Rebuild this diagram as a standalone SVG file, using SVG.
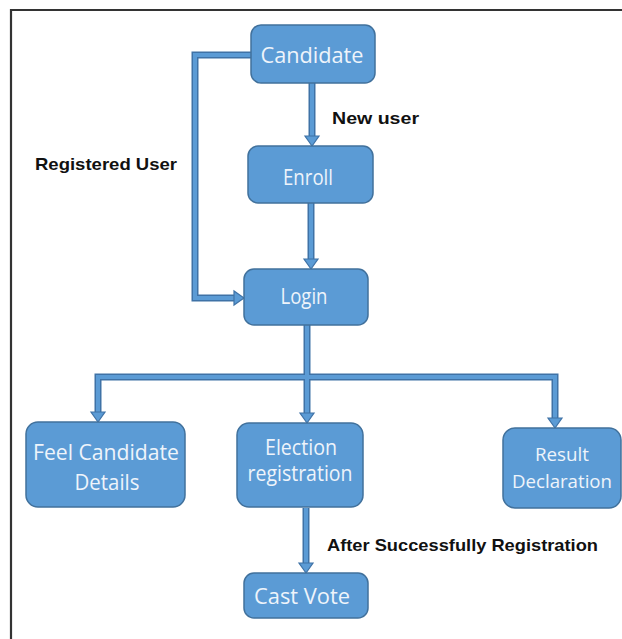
<svg xmlns="http://www.w3.org/2000/svg" xmlns:xlink="http://www.w3.org/1999/xlink" width="622" height="639" viewBox="0 0 622 639">
  <style>
    .box { fill: #5b9bd5; stroke: #41719c; stroke-width: 1.5; }
    .lbl { font-family: "Open Sans", "Noto Sans", "Liberation Sans", sans-serif; font-size: 21px; fill: #eef4fb; text-anchor: middle; }
    .sm { font-size: 19px; }
    .note { font-family: "Liberation Sans", "Open Sans", sans-serif; font-size: 17px; font-weight: bold; fill: #111; }
    .shaft-out { fill: none; stroke: #3f72a6; stroke-width: 7; stroke-linejoin: miter; }
    .shaft-in { fill: none; stroke: #5b9bd5; stroke-width: 4; stroke-linejoin: miter; }
    .head { fill: #5b9bd5; stroke: #3f72a6; stroke-width: 1.2; stroke-linejoin: miter; }
  </style>
  <defs>
    <!-- arrowhead pointing down, tip at origin -->
    <polygon id="ah" class="head" points="0,0 -7,-10 7,-10"/>
  </defs>

  <rect width="622" height="639" fill="#ffffff"/>
  <!-- outer frame -->
  <path d="M11,639 V10 H622" fill="none" stroke="#333" stroke-width="2.2"/>

  <g id="connectors">
    <g class="shaft-out">
      <path d="M312,83 V137"/>
      <path d="M311,203 V260"/>
      <path d="M251,55 H195 V298 H235"/>
      <path d="M307,325 V377"/>
      <path d="M98,413 V377 H555 V419"/>
      <path d="M307,377 V414"/>
      <path d="M306,508 V564"/>
    </g>
    <g class="shaft-in">
      <path d="M312,83 V137"/>
      <path d="M311,203 V260"/>
      <path d="M251,55 H195 V298 H235"/>
      <path d="M307,325 V377"/>
      <path d="M98,413 V377 H555 V419"/>
      <path d="M307,377 V414"/>
      <path d="M306,508 V564"/>
    </g>
    <use xlink:href="#ah" transform="translate(312,146)"/>
    <use xlink:href="#ah" transform="translate(311,269)"/>
    <use xlink:href="#ah" transform="translate(244,298) rotate(-90)"/>
    <use xlink:href="#ah" transform="translate(98,422)"/>
    <use xlink:href="#ah" transform="translate(307,423)"/>
    <use xlink:href="#ah" transform="translate(555,428)"/>
    <use xlink:href="#ah" transform="translate(306,573)"/>
  </g>

  <g id="candidate">
    <rect class="box" x="251" y="25" width="124" height="58" rx="10"/>
    <text class="lbl" x="312" y="63" textLength="103" lengthAdjust="spacingAndGlyphs">Candidate</text>
  </g>
  <g id="enroll">
    <rect class="box" x="248" y="146" width="125" height="57" rx="10"/>
    <text class="lbl" x="308" y="185" textLength="50" lengthAdjust="spacingAndGlyphs">Enroll</text>
  </g>
  <g id="login">
    <rect class="box" x="244" y="269" width="124" height="56" rx="10"/>
    <text class="lbl" x="304" y="304" textLength="47" lengthAdjust="spacingAndGlyphs">Login</text>
  </g>
  <g id="feel-candidate-details">
    <rect class="box" x="26" y="422" width="159" height="85" rx="12"/>
    <text class="lbl" x="106" y="460" textLength="146" lengthAdjust="spacingAndGlyphs">Feel Candidate</text>
    <text class="lbl" x="107" y="490" textLength="65" lengthAdjust="spacingAndGlyphs">Details</text>
  </g>
  <g id="election-registration">
    <rect class="box" x="237" y="423" width="126" height="84" rx="12"/>
    <text class="lbl" x="301" y="455" textLength="72" lengthAdjust="spacingAndGlyphs">Election</text>
    <text class="lbl" x="300" y="481" textLength="105" lengthAdjust="spacingAndGlyphs">registration</text>
  </g>
  <g id="result-declaration">
    <rect class="box" x="503" y="428" width="118" height="80" rx="12"/>
    <text class="lbl sm" x="562" y="461" textLength="54" lengthAdjust="spacingAndGlyphs">Result</text>
    <text class="lbl sm" x="562" y="488" textLength="100" lengthAdjust="spacingAndGlyphs">Declaration</text>
  </g>
  <g id="cast-vote">
    <rect class="box" x="244" y="573" width="124" height="45" rx="10"/>
    <text class="lbl" x="302" y="604" textLength="96" lengthAdjust="spacingAndGlyphs">Cast Vote</text>
  </g>

  <g id="labels">
    <text class="note" x="332" y="124" textLength="87" lengthAdjust="spacingAndGlyphs">New user</text>
    <text class="note" x="35" y="170" textLength="142" lengthAdjust="spacingAndGlyphs">Registered User</text>
    <text class="note" x="327" y="551" textLength="271" lengthAdjust="spacingAndGlyphs">After Successfully Registration</text>
  </g>
</svg>
